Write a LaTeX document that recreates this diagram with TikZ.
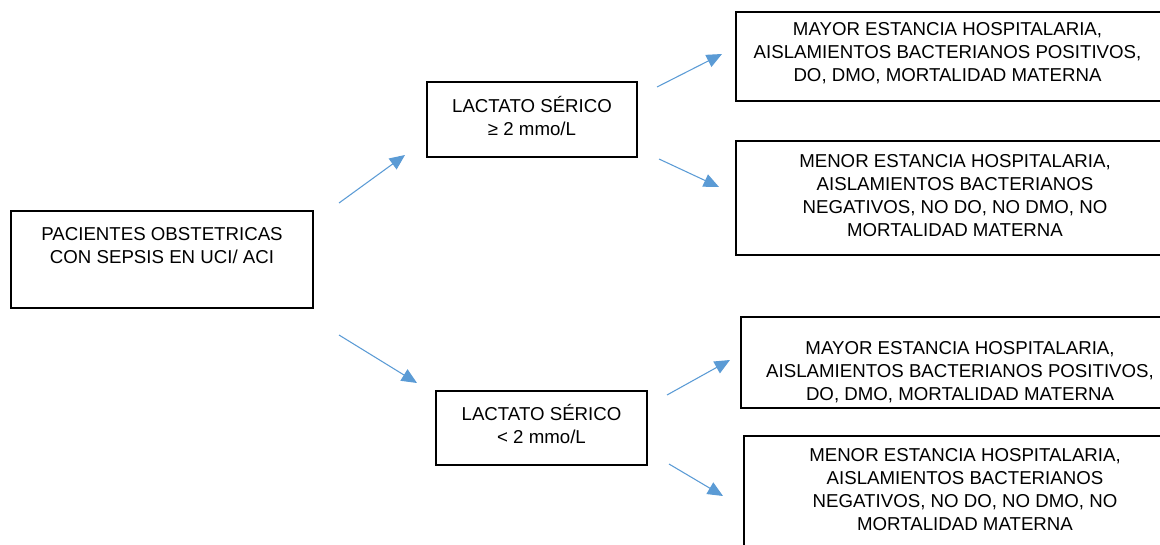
\documentclass[tikz,border=0pt]{standalone}
\usepackage{fontspec}
\setmainfont{Liberation Sans}
\usepackage{xcolor}
\usetikzlibrary{arrows.meta,positioning}
\definecolor{flecha}{HTML}{5B9BD5}

\begin{document}
\begin{tikzpicture}[
    x=0.75pt, y=-0.75pt,
    box/.style={rectangle, draw=black, line width=1.5pt, anchor=north west, inner sep=0pt},
    txt/.style={align=center, inner sep=0pt, font=\fontsize{14}{17.25}\selectfont},
    arrow/.style={->, >={Triangle[length=11.5pt,width=10pt]}, line width=0.8pt, flecha}
]
\useasboundingbox (0,0) rectangle (1160,545);

% Boxes
\node[box, minimum width=226.5pt, minimum height=72.75pt] (pacientes) at (10,210) {};
\node[box, minimum width=157.5pt, minimum height=56.25pt] (lacalto) at (426,81) {};
\node[box, minimum width=158.25pt, minimum height=55.5pt] (lacbajo) at (435,390) {};
\node[box, minimum width=320.25pt, minimum height=66.75pt] (mayor1) at (735,11) {};
\node[box, minimum width=328.5pt, minimum height=85.5pt] (menor1) at (735,140) {};
\node[box, minimum width=328.5pt, minimum height=68.25pt] (mayor2) at (740,316) {};
\node[box, minimum width=331.5pt, minimum height=93.75pt] (menor2) at (743,435) {};

% Texts
\node[txt] (pacientes-t) at ([yshift=10.5pt]pacientes.center) {PACIENTES OBSTETRICAS\\CON SEPSIS EN UCI/ ACI};
\node[txt] (lacalto-t) at ([yshift=2.6pt]lacalto.center) {LACTATO SÉRICO\\≥ 2 mmo/L};
\node[txt] (lacbajo-t) at ([yshift=3pt]lacbajo.center) {LACTATO SÉRICO\\< 2 mmo/L};
\node[txt] (mayor1-t) at ([shift={(-2,-3)}]mayor1.center) {MAYOR ESTANCIA HOSPITALARIA,\\AISLAMIENTOS BACTERIANOS POSITIVOS,\\DO, DMO, MORTALIDAD MATERNA};
\node[txt] (menor1-t) at ([yshift=1.9pt]menor1.center) {MENOR ESTANCIA HOSPITALARIA,\\AISLAMIENTOS BACTERIANOS\\NEGATIVOS, NO DO, NO DMO, NO\\MORTALIDAD MATERNA};
\node[txt] (mayor2-t) at ([yshift=-7.1pt]mayor2.center) {MAYOR ESTANCIA HOSPITALARIA,\\AISLAMIENTOS BACTERIANOS POSITIVOS,\\DO, DMO, MORTALIDAD MATERNA};
\node[txt] (menor2-t) at ([yshift=6.4pt]menor2.center) {MENOR ESTANCIA HOSPITALARIA,\\AISLAMIENTOS BACTERIANOS\\NEGATIVOS, NO DO, NO DMO, NO\\MORTALIDAD MATERNA};

% Arrows
\draw[arrow] ([shift={(25,-7)}]pacientes.north east) -- ([shift={(-21,-3)}]lacalto.south west);
\draw[arrow] ([shift={(25,26)}]pacientes.south east) -- ([shift={(-18,-7)}]lacbajo.north west);
\draw[arrow] ([shift={(19,6)}]lacalto.north east) -- ([shift={(-13,-2.5)}]mayor1.west);
\draw[arrow] ([shift={(21,1)}]lacalto.south east) -- ([shift={(-16,-11)}]menor1.west);
\draw[arrow] ([shift={(19,5)}]lacbajo.north east) -- ([shift={(-10,-2.5)}]mayor2.west);
\draw[arrow] ([shift={(21,-2)}]lacbajo.south east) -- ([shift={(-20,-2.5)}]menor2.west);
\end{tikzpicture}
\end{document}
